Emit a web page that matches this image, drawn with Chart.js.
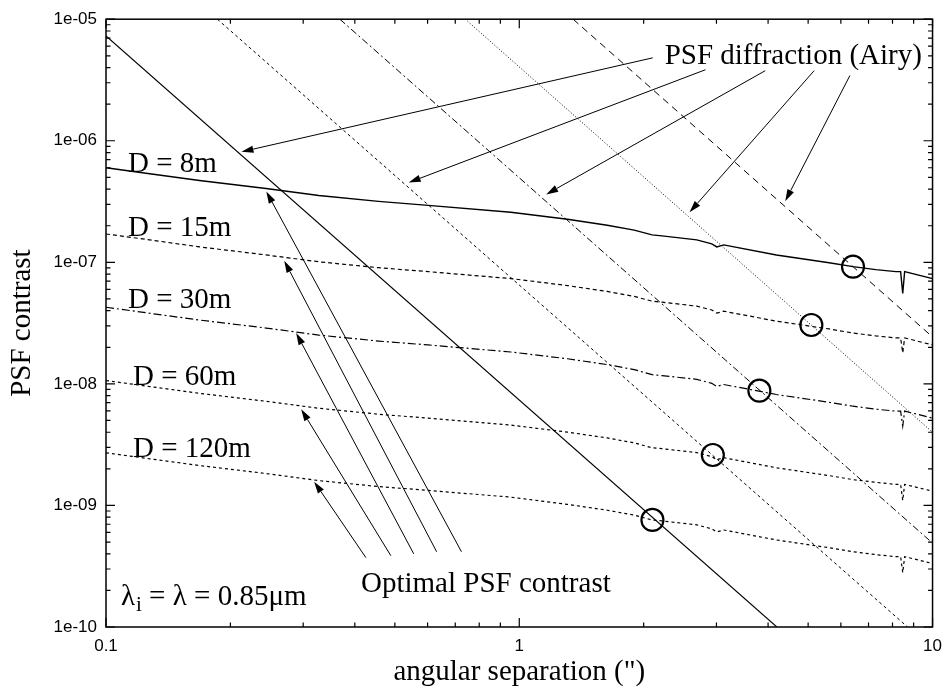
<!DOCTYPE html>
<html><head><meta charset="utf-8">
<script src="https://cdn.jsdelivr.net/npm/chart.js@4"></script>
<style>html,body{margin:0;padding:0;background:#fff;}canvas{display:block;}</style>
</head><body>
<canvas id="c" width="951" height="692"></canvas>
<script>
// ---- tick labels ----
const xTickValues = [0.1, 1, 10];
const xTickLabels = ['0.1', '1', '10'];
const yTickValues = [1e-10, 1e-9, 1e-8, 1e-7, 1e-6, 1e-5];
const yTickLabels = ['1e-10', '1e-09', '1e-08', '1e-07', '1e-06', '1e-05'];

// ---- optimal PSF contrast curves (angular separation, contrast) ----
const curveX = [0.1,0.1276,0.1683,0.244,0.3273,0.4564,0.6023,0.954,1.308,1.633,1.897,2.096,2.215,2.689,2.923,3.005,3.124,4.19,5.62,6.42,7.29,8.15,8.37,8.47,8.56,10];
const curve8 = [6.00e-7,5.36e-7,4.71e-7,4.05e-7,3.55e-7,3.17e-7,2.94e-7,2.58e-7,2.26e-7,2.02e-7,1.84e-7,1.68e-7,1.65e-7,1.53e-7,1.42e-7,1.34e-7,1.39e-7,1.15e-7,9.93e-8,9.21e-8,8.71e-8,8.39e-8,8.39e-8,5.55e-8,8.39e-8,7.35e-8];
const curve15 = [1.71e-7,1.53e-7,1.34e-7,1.15e-7,1.01e-7,9.03e-8,8.38e-8,7.35e-8,6.44e-8,5.76e-8,5.24e-8,4.79e-8,4.70e-8,4.36e-8,4.05e-8,3.82e-8,3.96e-8,3.28e-8,2.83e-8,2.62e-8,2.48e-8,2.39e-8,2.39e-8,1.80e-8,2.39e-8,2.09e-8];
const curve30 = [4.27e-8,3.81e-8,3.35e-8,2.88e-8,2.52e-8,2.25e-8,2.09e-8,1.83e-8,1.61e-8,1.44e-8,1.31e-8,1.19e-8,1.17e-8,1.09e-8,1.01e-8,9.53e-9,9.88e-9,8.18e-9,7.06e-9,6.55e-9,6.19e-9,5.97e-9,5.97e-9,4.5e-9,5.97e-9,5.23e-9];
const curve60 = [1.065e-8,9.51e-9,8.36e-9,7.19e-9,6.30e-9,5.63e-9,5.22e-9,4.58e-9,4.01e-9,3.59e-9,3.27e-9,2.98e-9,2.93e-9,2.72e-9,2.52e-9,2.38e-9,2.47e-9,2.04e-9,1.76e-9,1.63e-9,1.55e-9,1.49e-9,1.49e-9,1.1e-9,1.49e-9,1.31e-9];
const curve120 = [2.71e-9,2.42e-9,2.13e-9,1.83e-9,1.60e-9,1.43e-9,1.33e-9,1.17e-9,1.02e-9,9.13e-10,8.32e-10,7.59e-10,7.46e-10,6.92e-10,6.42e-10,6.06e-10,6.28e-10,5.20e-10,4.49e-10,4.16e-10,3.94e-10,3.79e-10,3.79e-10,2.8e-10,3.79e-10,3.33e-10];

// ---- PSF diffraction (Airy) lines: end points ----
const airy8X = [1.35, 10],   airy8Y = [1e-5, 2.43e-8];
const airy15X = [0.74, 10],  airy15Y = [1e-5, 4.0e-9];
const airy30X = [0.368, 10], airy30Y = [1e-5, 4.9e-10];
const airy60X = [0.186, 8.7], airy60Y = [1e-5, 1e-10];
const airy120X = [0.1, 4.2], airy120Y = [7.27e-6, 1e-10];

// ---- circled intersections ----
const circleX = [6.42, 5.09, 3.81, 2.94, 2.10];
const circleY = [9.2e-8, 3.05e-8, 8.8e-9, 2.6e-9, 7.6e-10];

// ---- annotations (data coordinates) ----
const textLabels = ['PSF diffraction (Airy)', 'Optimal PSF contrast', 'D = 8m', 'D = 15m', 'D = 30m', 'D = 60m', 'D = 120m'];
const textX = [2.248, 0.414, 0.113, 0.113, 0.113, 0.1162, 0.1162];
const textY = [4.30e-6, 1.93e-10, 5.57e-7, 1.65e-7, 4.19e-8, 9.7e-9, 2.52e-9];
const lambdaX = 0.1087, lambdaY = 1.51e-10;

const airyArrowTailX = [2.103, 2.822, 3.937, 5.17, 6.31];
const airyArrowTailY = [4.81e-6, 3.84e-6, 3.77e-6, 3.77e-6, 3.44e-6];
const airyArrowHeadX = [0.2127, 0.540, 1.162, 2.582, 4.40];
const airyArrowHeadY = [8.11e-7, 4.53e-7, 3.62e-7, 2.58e-7, 3.18e-7];
const optArrowTailX = [0.7246, 0.631, 0.5554, 0.4889, 0.4255];
const optArrowTailY = [4.16e-10, 4.16e-10, 4.00e-10, 3.86e-10, 3.72e-10];
const optArrowHeadX = [0.2443, 0.270, 0.2885, 0.2967, 0.3189];
const optArrowHeadY = [3.83e-7, 1.03e-7, 2.62e-8, 6.19e-9, 1.57e-9];

const pts = (xs, ys) => xs.map((v, i) => ({x: v, y: ys[i]}));
const lineDs = (xs, ys, dash, w) => ({type: 'line', data: pts(xs, ys), borderColor: '#000', borderWidth: w, borderDash: dash, pointRadius: 0, tension: 0, fill: false});

const SERIF = '"Liberation Serif", "Times New Roman", serif';
const SANS = '"Liberation Sans", Arial, sans-serif';

function arrow(ctx, x0, y0, x1, y1) {
  const ang = Math.atan2(y1 - y0, x1 - x0);
  const L = 12, W = 3.6;
  const bx = x1 - L * Math.cos(ang), by = y1 - L * Math.sin(ang);
  ctx.beginPath(); ctx.moveTo(x0, y0); ctx.lineTo(bx, by); ctx.stroke();
  ctx.beginPath();
  ctx.moveTo(x1, y1);
  ctx.lineTo(bx + W * Math.sin(ang), by - W * Math.cos(ang));
  ctx.lineTo(bx - W * Math.sin(ang), by + W * Math.cos(ang));
  ctx.closePath(); ctx.fill();
}

const annot = {
  id: 'annot',
  afterDatasetsDraw(chart) {
    const {ctx, chartArea: a, scales: {x, y}} = chart;
    const px = v => x.getPixelForValue(v), py = v => y.getPixelForValue(v);
    ctx.save();
    ctx.strokeStyle = '#000'; ctx.fillStyle = '#000'; ctx.lineWidth = 1; ctx.setLineDash([]);
    for (let i = 0; i < airyArrowTailX.length; i++)
      arrow(ctx, px(airyArrowTailX[i]), py(airyArrowTailY[i]), px(airyArrowHeadX[i]), py(airyArrowHeadY[i]));
    for (let i = 0; i < optArrowTailX.length; i++)
      arrow(ctx, px(optArrowTailX[i]), py(optArrowTailY[i]), px(optArrowHeadX[i]), py(optArrowHeadY[i]));
    ctx.textAlign = 'left'; ctx.textBaseline = 'alphabetic';
    ctx.font = '29px ' + SERIF;
    for (let i = 0; i < textLabels.length; i++) ctx.fillText(textLabels[i], px(textX[i]), py(textY[i]));
    // lambda label with subscript
    let lx = px(lambdaX); const ly = py(lambdaY);
    ctx.fillText('\u03bb', lx, ly); lx += ctx.measureText('\u03bb').width + 1;
    ctx.font = '21px ' + SERIF; ctx.fillText('i', lx, ly + 6); lx += ctx.measureText('i').width;
    ctx.font = '29px ' + SERIF; ctx.fillText(' = \u03bb = 0.85\u03bcm', lx, ly);
    // frame
    ctx.lineWidth = 1.5;
    ctx.strokeRect(a.left, a.top, a.right - a.left, a.bottom - a.top);
    // inward ticks on all sides
    ctx.lineWidth = 1.2;
    const maj = 9, mnr = 4.5;
    ctx.beginPath();
    for (let d = -1; d <= 1; d++) {
      for (let m = 1; m <= 9; m++) {
        const v = m * Math.pow(10, d);
        if (v < 0.1 - 1e-12 || v > 10 + 1e-9) continue;
        const xx = px(v), len = m === 1 ? maj : mnr;
        ctx.moveTo(xx, a.bottom); ctx.lineTo(xx, a.bottom - len);
        ctx.moveTo(xx, a.top); ctx.lineTo(xx, a.top + len);
      }
    }
    for (let d = -10; d <= -5; d++) {
      for (let m = 1; m <= 9; m++) {
        const v = m * Math.pow(10, d);
        if (v > 1.0000001e-5) continue;
        const yy = py(v), len = m === 1 ? maj : mnr;
        ctx.moveTo(a.left, yy); ctx.lineTo(a.left + len, yy);
        ctx.moveTo(a.right, yy); ctx.lineTo(a.right - len, yy);
      }
    }
    ctx.stroke();
    ctx.restore();
  }
};

new Chart(document.getElementById('c'), {
  type: 'line',
  data: {
    datasets: [
      lineDs(curveX, curve8, [], 1.4),
      lineDs(curveX, curve15, [4, 3], 1.2),
      lineDs(curveX, curve30, [8, 3, 2, 3], 1.2),
      lineDs(curveX, curve60, [3, 3], 1.2),
      lineDs(curveX, curve120, [3, 3], 1.2),
      lineDs(airy8X, airy8Y, [7, 5], 1),
      lineDs(airy15X, airy15Y, [1, 2], 1),
      lineDs(airy30X, airy30Y, [7, 3, 2, 3], 1),
      lineDs(airy60X, airy60Y, [3, 3], 1),
      lineDs(airy120X, airy120Y, [], 1.1),
      {type: 'scatter', data: pts(circleX, circleY), showLine: false, pointRadius: 11, pointBorderWidth: 2.2,
       pointBackgroundColor: 'rgba(0,0,0,0)', pointBorderColor: '#000', borderColor: '#000', backgroundColor: 'rgba(0,0,0,0)'}
    ]
  },
  options: {
    responsive: false, animation: false, devicePixelRatio: 1, events: [],
    layout: {padding: {left: 0, top: 13, right: 15, bottom: 0}},
    plugins: {legend: {display: false}, tooltip: {enabled: false}},
    scales: {
      x: {
        type: 'logarithmic', min: 0.1, max: 10,
        afterBuildTicks: s => { s.ticks = xTickValues.map(v => ({value: v})); },
        afterFit: s => { s.height = 65; },
        grid: {display: false, drawTicks: false}, border: {display: false},
        ticks: {autoSkip: false, maxRotation: 0, padding: 9, color: '#000', font: {family: SANS, size: 17},
          callback: v => { const i = xTickValues.indexOf(v); return i >= 0 ? xTickLabels[i] : ''; }},
        title: {display: true, text: 'angular separation (")', color: '#000', font: {family: SERIF, size: 29}, padding: {top: 0, bottom: 2.6}}
      },
      y: {
        type: 'logarithmic', min: 1e-10, max: 1e-5,
        afterBuildTicks: s => { s.ticks = yTickValues.map(v => ({value: v})); },
        afterFit: s => { s.width = 106; },
        grid: {display: false, drawTicks: false}, border: {display: false},
        ticks: {autoSkip: false, padding: 9, color: '#000', font: {family: SANS, size: 17},
          callback: v => { const i = yTickValues.indexOf(v); return i >= 0 ? yTickLabels[i] : ''; }},
        title: {display: true, text: 'PSF contrast', color: '#000', font: {family: SERIF, size: 29}, padding: {top: 4.6, bottom: 0}}
      }
    }
  },
  plugins: [annot]
});
</script>
</body></html>
